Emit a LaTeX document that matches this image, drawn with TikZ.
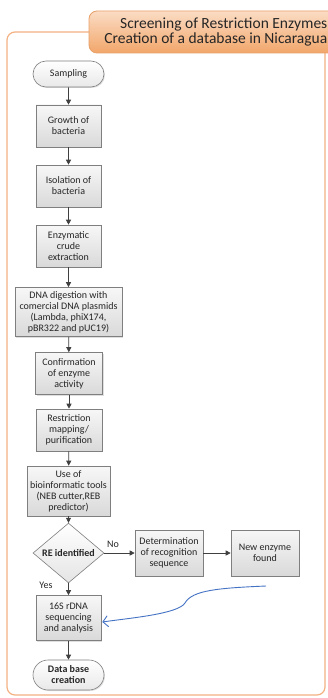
\documentclass[tikz,border=0pt]{standalone}
\usepackage{fontspec}
\setmainfont{Carlito}
\usetikzlibrary{shapes.geometric,shapes.misc,arrows.meta,shadows}
\definecolor{boxline}{HTML}{7F7F7F}
\definecolor{boxtop}{HTML}{F7F7F7}
\definecolor{boxbot}{HTML}{D9D9D9}
\definecolor{arrowgray}{HTML}{404040}
\definecolor{frameorange}{HTML}{F4B183}
\definecolor{titletop}{HTML}{FBDCC4}
\definecolor{titlebot}{HTML}{F2A66A}
\definecolor{titleline}{HTML}{E8A06A}
\definecolor{curveblue}{HTML}{4472C4}
\begin{document}
\begin{tikzpicture}[x=1pt,y=-1pt,
  txt/.style={font=\fontsize{10}{11}\selectfont, text=black!85, align=center},
  stepbox/.style={txt, draw=boxline, line width=0.6pt, top color=boxtop, bottom color=boxbot,
    inner sep=1pt, drop shadow={shadow xshift=1pt, shadow yshift=-1pt, opacity=0.25}},
  pill/.style={txt, rounded rectangle, draw=boxline, line width=0.6pt, top color=white, bottom color=boxbot!60,
    inner sep=1pt, drop shadow={shadow xshift=1pt, shadow yshift=-1pt, opacity=0.25}},
  decision/.style={txt, diamond, draw=boxline, line width=0.6pt, top color=white, bottom color=boxbot!70,
    inner sep=0pt, font=\fontsize{10}{11}\selectfont\bfseries},
  conn/.style={draw=arrowgray, line width=0.7pt, -{Triangle[length=5pt,width=5pt]}},
  lbl/.style={font=\fontsize{10}{11}\selectfont, text=black!85, inner sep=0pt}
]
\useasboundingbox (0,0) rectangle (328,698);
\clip (0,0) rectangle (328,698);
% frame
\draw[draw=frameorange, line width=1.2pt, fill=white, rounded corners=8pt] (7,32) rectangle (325,695);
% title
\draw[draw=titleline, line width=0.8pt, top color=titletop, bottom color=titlebot, rounded corners=8pt]
  (89,11) rectangle (350,53);
\node[anchor=east, align=right, inner sep=0pt, font=\fontsize{15.5}{15}\selectfont, text=black!85] (title) at (327.5,32)
  {Screening of Restriction Enzymes\\Creation of a database in Nicaragua};
% nodes
\node[pill, minimum width=73, minimum height=26] (samp) at (68.5,74) {Sampling};
\node[stepbox, minimum width=65, minimum height=42] (growth) at (68.5,126) {Growth of\\bacteria};
\node[stepbox, minimum width=65, minimum height=42] (iso) at (68.5,186) {Isolation of\\bacteria};
\node[stepbox, minimum width=65, minimum height=42] (enz) at (68.5,246) {Enzymatic\\crude\\extraction};
\node[stepbox, minimum width=107, minimum height=49] (dna) at (68.5,312) {DNA digestion with\\comercial DNA plasmids\\(Lambda, phiX174,\\pBR322 and pUC19)};
\node[stepbox, minimum width=67, minimum height=42] (conf) at (69,373.5) {Confirmation\\of enzyme\\activity};
\node[stepbox, minimum width=66, minimum height=42] (map) at (69,430) {Restriction\\mapping/\\purification};
\node[stepbox, minimum width=83, minimum height=50] (bio) at (68.5,491) {Use of\\bioinformatic tools\\(NEB cutter,REB\\predictor)};
\node[decision, minimum width=71, minimum height=46] (re) at (68.5,553) {RE identified};
\node[stepbox, minimum width=68, minimum height=46] (det) at (169,553) {Determination\\of recognition\\sequence};
\node[stepbox, minimum width=68, minimum height=46] (new) at (265,553) {New enzyme\\found};
\node[stepbox, minimum width=65, minimum height=45] (seq) at (68.5,618) {16S rDNA\\sequencing\\and analysis};
\node[pill, minimum width=73, minimum height=30, font=\fontsize{10}{11}\selectfont\bfseries] (db) at (68.5,675) {Data base\\creation};
% connectors
\draw[conn] (samp) -- (growth);
\draw[conn] (growth) -- (iso);
\draw[conn] (iso) -- (enz);
\draw[conn] (enz) -- (dna);
\draw[conn] (dna) -- (conf);
\draw[conn] (conf) -- (map);
\draw[conn] (map) -- (bio);
\draw[conn] (bio) -- (re);
\draw[conn] (re) -- (det);
\draw[conn] (det) -- (new);
\draw[conn] (re) -- (seq);
\draw[conn] (seq) -- (db);
\node[lbl] (no) at (113,544) {No};
\node[lbl] (yes) at (46,585) {Yes};
% blue curve
\coordinate (cstart) at (266,586);
\coordinate (ctip) at ([yshift=-4pt, xshift=1pt]seq.east);
\draw[curveblue, line width=0.9pt, -{Straight Barb[length=5pt,width=11pt]}]
  (cstart) .. controls (220,588) and (192,590) .. (185,603)
  .. controls (178,614) and (130,618) .. (ctip);
\end{tikzpicture}
\end{document}
